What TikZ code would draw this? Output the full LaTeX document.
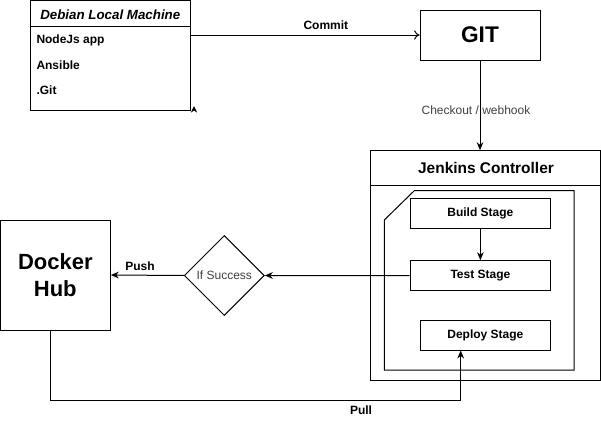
\documentclass[tikz,border=0pt]{standalone}
\usepackage{fontspec}
\setmainfont{Liberation Sans}
\usetikzlibrary{shapes.geometric,arrows.meta}
\begin{document}
\begin{tikzpicture}[x=0.75pt,y=-0.75pt,line width=0.75pt,
  box/.style={draw,inner sep=0pt,minimum width={#1}},
  lbl/.style={font=\fontsize{9pt}{10pt}\selectfont\bfseries,inner sep=0pt},
  glbl/.style={font=\fontsize{9pt}{10pt}\selectfont,text=black!75,inner sep=0pt},
  itm/.style={font=\fontsize{9pt}{10pt}\selectfont\bfseries,inner sep=0pt,anchor=west},
  arr/.style={-{Stealth[length=6pt,width=5pt]}},
  openarr/.style={-{To[length=4pt,width=7pt]}},
  stagebox/.style={draw,inner sep=0pt,minimum height={30*0.75pt},font=\fontsize{9pt}{10pt}\selectfont\bfseries}]
\useasboundingbox (0,0) rectangle (601,421);
% Debian
\node[draw,inner sep=0pt,minimum width={160*0.75pt},minimum height={109.5*0.75pt}] (debian) at (110.7,55.25) {};
\node[font=\fontsize{10pt}{12pt}\selectfont\bfseries\itshape,inner sep=0pt] (debhead) at (110.3,15) {Debian Local Machine};
\draw (debian.west |- 0,26) -- (debian.east |- 0,26);
\node[itm] (i1) at (36,40) {NodeJs app};
\node[itm] (i2) at (36,65.3) {Ansible};
\node[itm] (i3) at (36,90.7) {.Git};
\fill (190.8,112.7) -- (194,106) -- (197.2,112.7) -- (194,110.5) -- cycle;
% GIT
\node[draw,inner sep=0pt,minimum width={120*0.75pt},minimum height={50*0.75pt},font=\fontsize{17pt}{20pt}\selectfont\bfseries] (git) at (480,35) {GIT};
\draw[openarr] (debian.east |- git.west) -- node[lbl,pos=0.59,yshift=7pt] (commit) {Commit} (git.west);
% Jenkins
\node[draw,inner sep=0pt,minimum width={229.5*0.75pt},minimum height={229.3*0.75pt}] (jenk) at (485.6,265.35) {};
\draw (jenk.west |- 0,185) -- (jenk.east |- 0,185);
\node[font=\fontsize{11.6pt}{14pt}\selectfont\bfseries,inner sep=0pt] (jtitle) at (486,168) {Jenkins Controller};
\draw[arr] (git.south) -- (git.south |- jenk.north);
\node[glbl,fill=none] (checkout) at (476,110.7) {Checkout / webhook};
% inner card
\coordinate (c1) at (384.3,220);
\coordinate (c2) at (414.3,190.7);
\coordinate (c3) at (574,190.7);
\coordinate (c4) at (574,370);
\coordinate (c5) at (384.3,370);
\draw (c1) -- (c2) -- (c3) -- (c4) -- (c5) -- cycle;
% stages
\node[stagebox,minimum width={140.7*0.75pt}] (build) at (480.4,213.7) {Build Stage};
\node[stagebox,minimum width={140.7*0.75pt}] (test) at (480.4,275.7) {Test Stage};
\node[stagebox,minimum width={130.7*0.75pt}] (deploy) at (485.4,335) {Deploy Stage};
\draw[arr] (build.south) -- (test.north);
% diamond
\node[draw,diamond,aspect=1,inner sep=0pt,minimum width={80*0.75pt},minimum height={80*0.75pt},font=\fontsize{9pt}{10pt}\selectfont,text=black!75] (ifs) at (224.3,275.5) {If Success};
\draw[arr] (test.west) -- (ifs.east);
% Docker
\node[draw,inner sep=0pt,minimum width={110*0.75pt},minimum height={110*0.75pt},align=center,font=\fontsize{16.5pt}{20.3pt}\selectfont\bfseries] (docker) at (55.3,275) {Docker\\Hub};
\draw[arr] (ifs.west) -- (docker.east);
\node[lbl] (push) at (140,266) {Push};
% Pull
\coordinate (pa) at (50.7,400);
\coordinate (pb) at (460.7,400);
\draw[arr] (pa |- docker.south) -- (pa) -- (pb) -- (pb |- deploy.south);
\node[lbl] (pull) at (361,410.7) {Pull};
\end{tikzpicture}
\end{document}
